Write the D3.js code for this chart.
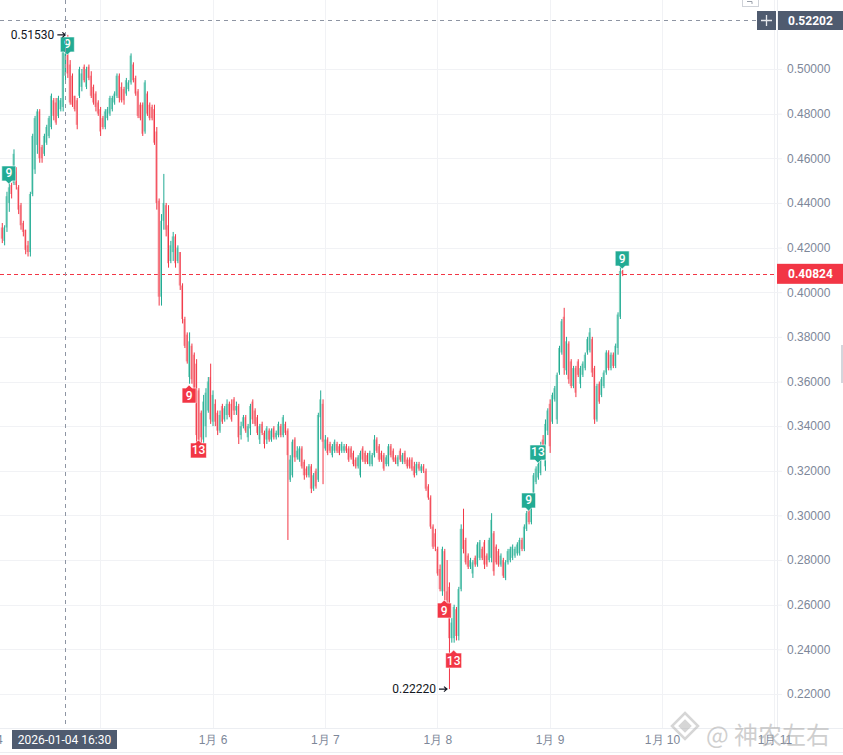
<!DOCTYPE html>
<html lang="zh">
<head>
<meta charset="UTF-8">
<title>K线 30m</title>
<script src="https://d3js.org/d3.v7.min.js"></script>
<style>
  html, body { margin: 0; padding: 0; background: #fff; }
  svg { display: block; font-family: Roboto, "Noto Sans", sans-serif; }
  .axis text { fill: #7d8799; font-size: 12px; }
  .axis .domain { display: none; }
</style>
</head>
<body>
<svg id="chart" width="843" height="755"></svg>
<script>
// 30 分钟 K 线, 第一根 2026-01-04 03:00
const startTime = Date.UTC(2026, 0, 4, 3, 0);
const barMinutes = 30;

const opens = [
  .429,.423,.429,.440,.448,.449,.454,.447,.439,.431,
  .428,.421,.418,.444,.455,.466,.481,.465,.462,.467,
  .470,.474,.486,.485,.479,.482,.483,.497,.508,.502,
  .497,.488,.486,.488,.492,.501,.492,.501,.497,.492,
  .489,.485,.482,.478,.474,.478,.480,.482,.485,.488,
  .497,.492,.491,.489,.491,.494,.502,.496,.490,.484,
  .484,.472,.489,.484,.483,.482,.472,.441,.398,.432,
  .439,.430,.414,.418,.425,.414,.418,.403,.388,.381,
  .362,.376,.372,.368,.356,.346,.334,.340,.347,.362,
  .342,.350,.346,.338,.349,.343,.345,.350,.350,.352,
  .347,.349,.336,.340,.344,.335,.339,.351,.347,.344,
  .334,.341,.337,.334,.338,.334,.339,.335,.336,.340,
  .336,.341,.338,.316,.318,.334,.326,.325,.330,.324,
  .321,.318,.322,.312,.320,.316,.344,.350,.330,.334,
  .332,.327,.329,.332,.331,.329,.329,.331,.330,.330,
  .328,.325,.322,.318,.330,.328,.327,.323,.323,.327,
  .334,.331,.328,.327,.323,.323,.331,.329,.326,.323,
  .329,.324,.328,.325,.325,.325,.322,.319,.323,.320,
  .322,.320,.313,.308,.295,.292,.285,.276,.266,.284,
  .266,.268,.245,.245,.258,.246,.267,.294,.289,.282,
  .277,.274,.281,.278,.281,.285,.288,.282,.280,.281,
  .292,.286,.284,.278,.280,.272,.279,.280,.281,.282,
  .283,.283,.289,.285,.294,.302,.297,.305,.315,.317,
  .319,.334,.322,.338,.350,.342,.352,.343,.364,.373,
  .389,.365,.377,.369,.358,.366,.369,.359,.363,.366,
  .373,.374,.379,.366,.343,.359,.354,.358,.364,.373,
  .366,.372,.367,.375,.389,.4095
];
const highs = [
  .431,.430,.445,.449,.449,.464,.456,.448,.440,.432,
  .428,.423,.445,.471,.479,.482,.482,.466,.471,.475,
  .479,.489,.487,.487,.488,.487,.513,.509,.5153,.504,
  .498,.488,.487,.501,.500,.502,.501,.502,.499,.493,
  .490,.486,.483,.479,.482,.483,.488,.488,.490,.498,
  .498,.494,.492,.496,.495,.507,.503,.497,.491,.485,
  .485,.495,.490,.485,.484,.484,.474,.442,.435,.453,
  .440,.439,.423,.427,.426,.421,.418,.404,.389,.382,
  .382,.377,.373,.370,.357,.347,.354,.357,.362,.368,
  .356,.352,.347,.347,.350,.349,.352,.351,.352,.353,
  .351,.350,.342,.345,.345,.341,.350,.352,.348,.345,
  .341,.342,.338,.340,.339,.339,.340,.338,.342,.341,
  .345,.342,.339,.327,.334,.335,.331,.331,.331,.325,
  .322,.323,.323,.319,.321,.346,.356,.352,.336,.335,
  .333,.332,.334,.333,.332,.333,.332,.332,.331,.331,
  .329,.326,.327,.329,.331,.329,.328,.329,.328,.336,
  .335,.332,.329,.328,.327,.332,.332,.330,.327,.327,
  .330,.328,.329,.326,.326,.326,.324,.324,.324,.323,
  .323,.321,.314,.309,.296,.294,.286,.278,.286,.285,
  .280,.270,.254,.260,.259,.268,.296,.303,.290,.283,
  .281,.280,.282,.288,.289,.286,.289,.283,.290,.301,
  .293,.287,.285,.283,.281,.280,.285,.286,.287,.286,
  .288,.290,.290,.296,.302,.304,.305,.319,.322,.325,
  .333,.336,.343,.348,.352,.355,.358,.364,.376,.388,
  .393,.380,.378,.370,.367,.367,.370,.367,.369,.373,
  .380,.384,.380,.367,.359,.360,.362,.365,.374,.374,
  .373,.373,.377,.391,.4115,.4100
];
const lows = [
  .422,.421,.427,.436,.442,.448,.446,.435,.428,.425,
  .417,.416,.416,.443,.453,.462,.458,.458,.461,.466,
  .469,.473,.477,.475,.478,.481,.481,.495,.496,.484,
  .483,.481,.473,.487,.490,.494,.491,.495,.487,.484,
  .481,.479,.470,.473,.473,.477,.479,.481,.484,.487,
  .485,.485,.484,.488,.490,.493,.494,.488,.478,.477,
  .470,.471,.479,.477,.477,.466,.437,.394,.394,.428,
  .425,.411,.413,.414,.411,.413,.401,.386,.375,.368,
  .359,.359,.355,.332,.332,.332,.331,.335,.346,.341,
  .340,.340,.336,.337,.341,.342,.343,.344,.342,.345,
  .345,.332,.334,.339,.337,.333,.336,.341,.340,.336,
  .332,.336,.330,.332,.333,.333,.334,.334,.335,.335,
  .335,.336,.289,.315,.317,.324,.325,.324,.321,.316,
  .317,.317,.310,.311,.312,.315,.334,.314,.329,.327,
  .328,.326,.328,.328,.327,.328,.328,.328,.324,.325,
  .322,.321,.321,.317,.324,.323,.323,.322,.322,.326,
  .328,.324,.324,.320,.322,.322,.326,.324,.323,.322,
  .324,.323,.323,.321,.321,.320,.317,.318,.320,.319,
  .319,.311,.307,.294,.285,.284,.273,.266,.264,.262,
  .260,.2222,.243,.243,.244,.244,.266,.283,.278,.276,
  .276,.272,.277,.277,.280,.280,.276,.277,.279,.279,
  .273,.278,.277,.277,.272,.271,.278,.279,.280,.281,
  .282,.282,.284,.284,.293,.296,.296,.304,.314,.316,
  .318,.327,.320,.336,.328,.341,.351,.341,.363,.372,
  .363,.363,.359,.357,.357,.353,.362,.357,.362,.365,
  .372,.373,.362,.341,.342,.350,.353,.357,.363,.365,
  .365,.366,.366,.372,.388,.4072
];
const closes = [
  .424,.429,.443,.447,.444,.462,.448,.437,.430,.427,
  .419,.418,.444,.470,.478,.481,.460,.460,.470,.474,
  .478,.488,.479,.476,.487,.486,.511,.507,.498,.485,
  .484,.482,.475,.500,.498,.495,.500,.496,.488,.485,
  .483,.480,.472,.474,.481,.482,.487,.487,.489,.497,
  .487,.486,.486,.495,.494,.506,.495,.489,.479,.478,
  .471,.494,.480,.478,.478,.467,.440,.398,.432,.440,
  .428,.413,.421,.425,.413,.420,.403,.388,.376,.369,
  .378,.361,.357,.336,.334,.335,.351,.355,.360,.343,
  .354,.342,.338,.345,.342,.348,.350,.345,.343,.347,
  .349,.335,.340,.344,.338,.340,.349,.343,.341,.337,
  .340,.337,.332,.339,.334,.338,.335,.337,.341,.336,
  .344,.337,.327,.325,.333,.326,.329,.330,.322,.318,
  .318,.322,.312,.318,.313,.345,.352,.333,.334,.328,
  .329,.331,.333,.329,.328,.332,.331,.329,.325,.326,
  .323,.322,.326,.328,.325,.324,.324,.328,.327,.334,
  .329,.325,.325,.321,.326,.331,.327,.325,.324,.326,
  .325,.327,.324,.322,.322,.321,.318,.323,.321,.322,
  .320,.312,.308,.295,.286,.286,.274,.267,.285,.266,
  .262,.245,.252,.259,.246,.267,.294,.285,.279,.277,
  .280,.279,.278,.287,.288,.281,.278,.278,.289,.298,
  .275,.279,.278,.282,.273,.279,.284,.285,.286,.285,
  .287,.289,.285,.295,.301,.297,.304,.318,.321,.323,
  .330,.328,.341,.347,.331,.354,.357,.363,.375,.387,
  .366,.378,.361,.358,.366,.355,.363,.366,.368,.372,
  .379,.382,.364,.343,.358,.351,.361,.364,.373,.366,
  .372,.367,.376,.390,.4095,.40824
];

// TD 序列标记
const markerIdx   = [3, 28, 80, 84, 189, 193, 225, 229, 265];
const markerText  = ["9", "9", "9", "13", "9", "13", "9", "13", "9"];
const markerSide  = ["up", "up", "down", "down", "down", "down", "up", "up", "up"];
const markerPrice = [.4485, .5063, .3584, .3338, .2621, .2397, .3020, .3235, .4104];

const priceTicks = d3.range(0.22, 0.5001, 0.02);
const dayTicks = [4, 5, 6, 7, 8, 9, 10, 11].map(d => new Date(Date.UTC(2026, 0, d)));
// 1月 5 sits under the crosshair time label, so it is left blank
const dayLabels = ["1月 4", "", "1月 6", "1月 7", "1月 8", "1月 9", "1月 10", "1月 11"];

const crossTime = new Date(Date.UTC(2026, 0, 4, 16, 30));
const crossPrice = 0.52202;
const lastPrice = closes[closes.length - 1];

const W = 843, H = 755;
const plotRight = 777, plotBottom = 728;

const UP = "#22ab94", UP_LIGHT = "#8fd8c5";
const DOWN = "#f23645", DOWN_LIGHT = "#f7a3aa";
const GRID = "#f1f2f5";

const times = opens.map((_, i) => new Date(startTime + i * barMinutes * 60000));

const x = d3.scaleUtc()
  .domain([crossTime, new Date(Date.UTC(2026, 0, 6))])
  .range([65, 212.5]);

const y = d3.scaleLinear()
  .domain([0.22, 0.50])
  .range([694, 69]);

const svg = d3.select("#chart");
svg.append("rect").attr("width", W).attr("height", H).attr("fill", "#fff");

// grid
svg.append("g").selectAll("line.h")
  .data(priceTicks)
  .join("line")
  .attr("x1", 0).attr("x2", plotRight)
  .attr("y1", d => Math.round(y(d)) + 0.5).attr("y2", d => Math.round(y(d)) + 0.5)
  .attr("stroke", GRID);

svg.append("g").selectAll("line.v")
  .data(dayTicks)
  .join("line")
  .attr("x1", d => Math.round(x(d)) + 0.5).attr("x2", d => Math.round(x(d)) + 0.5)
  .attr("y1", 0).attr("y2", plotBottom)
  .attr("stroke", GRID);

// borders
svg.append("line").attr("x1", plotRight + 0.5).attr("x2", plotRight + 0.5)
  .attr("y1", 0).attr("y2", plotBottom).attr("stroke", "#eceef2");
svg.append("line").attr("x1", 0).attr("x2", W)
  .attr("y1", plotBottom + 0.5).attr("y2", plotBottom + 0.5).attr("stroke", "#eceef2");
svg.append("line").attr("x1", 0).attr("x2", W)
  .attr("y1", 752.5).attr("y2", 752.5).attr("stroke", "#eceef2");

// price axis
const yAxis = svg.append("g")
  .attr("class", "axis")
  .attr("transform", `translate(${plotRight},0)`)
  .call(d3.axisRight(y).tickValues(priceTicks).tickFormat(d3.format(".5f")).tickSize(5).tickPadding(5));
yAxis.selectAll(".tick line").attr("stroke", GRID);

// time axis
svg.append("g")
  .attr("class", "axis")
  .attr("transform", `translate(0,${plotBottom})`)
  .call(d3.axisBottom(x).tickValues(dayTicks).tickFormat((d, i) => dayLabels[i]).tickSize(0).tickPadding(7));

// watermark
const wm = svg.append("g").attr("opacity", 0.55);
const lg = wm.append("g").attr("transform", "translate(685,726)")
  .attr("fill", "none").attr("stroke", "#b5b5b5").attr("stroke-width", 2.5);
lg.append("path").attr("d", "M0,-13 L13,0 L0,13 L-13,0 Z");
lg.append("path").attr("d", "M0,-5 L5,0 L0,5 L-5,0 Z").attr("fill", "#b5b5b5");
wm.append("text")
  .attr("x", 706).attr("y", 744)
  .attr("font-family", "'Noto Sans CJK SC', sans-serif")
  .attr("font-size", 24)
  .attr("fill", "#a9a9a9")
  .text("@ 神农左右");

// last price line
svg.append("line")
  .attr("x1", 0).attr("x2", plotRight)
  .attr("y1", Math.round(y(lastPrice)) + 0.5).attr("y2", Math.round(y(lastPrice)) + 0.5)
  .attr("stroke", DOWN).attr("stroke-dasharray", "4,3");

// candles
const idx = d3.range(opens.length);
const candles = svg.append("g");
candles.selectAll("rect")
  .data(idx)
  .join("rect")
  .attr("x", i => x(times[i]) - 1)
  .attr("width", 1.8)
  .attr("y", i => y(Math.max(opens[i], closes[i])))
  .attr("height", i => Math.max(1, Math.abs(y(opens[i]) - y(closes[i]))))
  .attr("fill", i => closes[i] >= opens[i] ? UP_LIGHT : DOWN_LIGHT);
candles.selectAll("line")
  .data(idx)
  .join("line")
  .attr("x1", i => x(times[i]) + 0.5).attr("x2", i => x(times[i]) + 0.5)
  .attr("y1", i => y(highs[i])).attr("y2", i => y(lows[i]))
  .attr("stroke", i => closes[i] >= opens[i] ? UP : DOWN)
  .attr("stroke-width", 1);

// TD markers
const mk = svg.append("g").selectAll("g")
  .data(markerIdx.map((d, k) => k))
  .join("g");
mk.append("path")
  .attr("d", k => {
    const cx = x(times[markerIdx[k]]);
    const tip = y(markerPrice[k]);
    const w = markerText[k].length > 1 ? 16 : 14;
    if (markerSide[k] === "up") {
      const b = tip - 3, t = tip - 18;
      return `M${cx - w / 2},${t}H${cx + w / 2}V${b}H${cx + 3}L${cx},${tip}L${cx - 3},${b}H${cx - w / 2}Z`;
    }
    const t = tip + 3, b = tip + 18;
    return `M${cx - w / 2},${t}H${cx - 3}L${cx},${tip}L${cx + 3},${t}H${cx + w / 2}V${b}H${cx - w / 2}Z`;
  })
  .attr("fill", k => markerSide[k] === "up" ? UP : DOWN)
  .attr("stroke", "rgba(255,255,255,0.6)")
  .attr("stroke-width", 1);
mk.append("text")
  .attr("x", k => x(times[markerIdx[k]]))
  .attr("y", k => markerSide[k] === "up" ? y(markerPrice[k]) - 10.5 : y(markerPrice[k]) + 10.5)
  .attr("text-anchor", "middle")
  .attr("dominant-baseline", "central")
  .attr("font-size", 12)
  .attr("font-weight", 500)
  .attr("fill", "#fff")
  .text(k => markerText[k]);

// high / low annotations
function annotate(i, price) {
  const cx = x(times[i]), cy = y(price);
  const g = svg.append("g");
  g.append("text")
    .attr("x", cx - 13).attr("y", cy)
    .attr("text-anchor", "end")
    .attr("dominant-baseline", "central")
    .attr("font-size", 12)
    .attr("fill", "#131722")
    .text(d3.format(".5f")(price));
  g.append("path")
    .attr("d", `M${cx - 10},${cy}H${cx - 2}M${cx - 5},${cy - 2.5}L${cx - 2},${cy}L${cx - 5},${cy + 2.5}`)
    .attr("fill", "none").attr("stroke", "#131722").attr("stroke-width", 1.2);
}
const hiIdx = d3.maxIndex(highs), loIdx = d3.minIndex(lows);
annotate(hiIdx, highs[hiIdx]);
annotate(loIdx, lows[loIdx]);

// crosshair
const chX = Math.round(x(crossTime)) + 0.5;
const chY = Math.round(y(crossPrice)) + 0.5;
svg.append("line")
  .attr("x1", chX).attr("x2", chX).attr("y1", 0).attr("y2", plotBottom)
  .attr("stroke", "#8e95a3").attr("stroke-dasharray", "4,4");
svg.append("line")
  .attr("x1", 0).attr("x2", 757).attr("y1", chY).attr("y2", chY)
  .attr("stroke", "#8e95a3").attr("stroke-dasharray", "4,4");

const SLATE = "#4f5b6f";
svg.append("rect").attr("x", 12).attr("y", 730).attr("width", 105).attr("height", 19).attr("fill", SLATE);
svg.append("text").attr("x", 64.5).attr("y", 739.5)
  .attr("text-anchor", "middle").attr("dominant-baseline", "central")
  .attr("font-size", 12).attr("fill", "#fff")
  .text(d3.utcFormat("%Y-%m-%d %H:%M")(crossTime));

svg.append("rect").attr("x", 757).attr("y", 11).attr("width", 19).attr("height", 19).attr("fill", SLATE);
svg.append("path").attr("d", "M766.5,15V26M761,20.5H772")
  .attr("stroke", "#e6e8ec").attr("stroke-width", 1.3);
svg.append("rect").attr("x", 778).attr("y", 11).attr("width", 65).attr("height", 19).attr("fill", SLATE);
svg.append("text").attr("x", 788).attr("y", 20.5)
  .attr("dominant-baseline", "central")
  .attr("font-size", 12).attr("font-weight", 700).attr("fill", "#fff")
  .text(d3.format(".5f")(crossPrice));

// last price label
svg.append("rect").attr("x", 777).attr("y", y(lastPrice) - 10).attr("width", 66).attr("height", 20).attr("fill", DOWN);
svg.append("text").attr("x", 788).attr("y", y(lastPrice))
  .attr("dominant-baseline", "central")
  .attr("font-size", 12).attr("font-weight", 700).attr("fill", "#fff")
  .text(d3.format(".5f")(lastPrice));

// small ui bits
svg.append("rect").attr("x", 742.5).attr("y", -8.5).attr("width", 16).attr("height", 15)
  .attr("fill", "#fff").attr("stroke", "#cfd2d8");
svg.append("path").attr("d", "M747,1.5H752V4").attr("fill", "none").attr("stroke", "#9aa0aa");
svg.append("rect").attr("x", 841).attr("y", 345).attr("width", 2).attr("height", 38).attr("fill", "#d3d6dc");
</script>
</body>
</html>
